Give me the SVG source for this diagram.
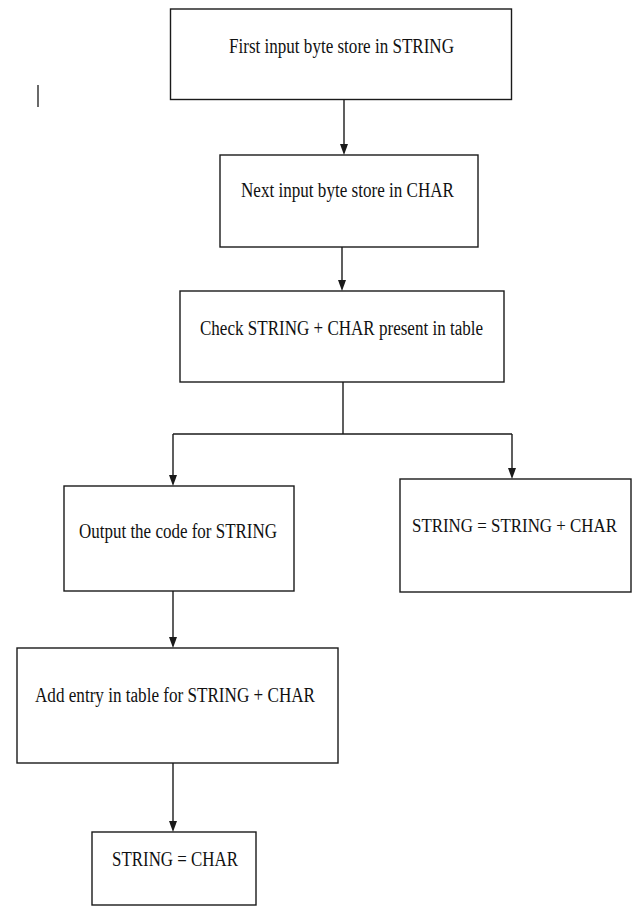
<svg xmlns="http://www.w3.org/2000/svg" width="632" height="906" viewBox="0 0 632 906">
<style>
.box{fill:#fff;stroke:#1a1a1a;stroke-width:1.4}
.lbl{font-family:"Liberation Serif","Times New Roman",serif;font-size:20px;fill:#111}
.con{fill:none;stroke:#1a1a1a;stroke-width:1.4}
.ah{fill:#1a1a1a}
</style>
<rect width="632" height="906" fill="#fff"/>
<line x1="38" y1="85" x2="38" y2="107" stroke="#1a1a1a" stroke-width="1.3"/>
<g id="connectors">
<line class="con" x1="344" y1="99.5" x2="344" y2="144"/>
<path class="ah" d="M340,144 L348,144 L344,155 Z"/>
<line class="con" x1="342" y1="247" x2="342" y2="280"/>
<path class="ah" d="M338,280 L346,280 L342,291 Z"/>
<line class="con" x1="343" y1="382" x2="343" y2="434" stroke-width="2.2"/>
<line class="con" x1="173" y1="434" x2="512" y2="434"/>
<line class="con" x1="173" y1="434" x2="173" y2="475"/>
<path class="ah" d="M169,475 L177,475 L173,486 Z"/>
<line class="con" x1="512" y1="434" x2="512" y2="468"/>
<path class="ah" d="M508,468 L516,468 L512,479 Z"/>
<line class="con" x1="173" y1="591" x2="173" y2="637"/>
<path class="ah" d="M169,637 L177,637 L173,648 Z"/>
<line class="con" x1="173" y1="763" x2="173" y2="821"/>
<path class="ah" d="M169,821 L177,821 L173,832 Z"/>
</g>
<g id="n1">
<rect class="box" x="170.5" y="9" width="341" height="90.5"/>
<text class="lbl" x="229" y="53" textLength="225" lengthAdjust="spacingAndGlyphs">First input byte store in STRING</text>
</g>
<g id="n2">
<rect class="box" x="220" y="155" width="258" height="92"/>
<text class="lbl" x="241" y="197" textLength="213" lengthAdjust="spacingAndGlyphs">Next input byte store in CHAR</text>
</g>
<g id="n3">
<rect class="box" x="180" y="291" width="324" height="91"/>
<text class="lbl" x="200" y="335" textLength="283" lengthAdjust="spacingAndGlyphs">Check STRING + CHAR present in table</text>
</g>
<g id="n4">
<rect class="box" x="64" y="486" width="230" height="105"/>
<text class="lbl" x="79" y="538" textLength="198" lengthAdjust="spacingAndGlyphs">Output the code for STRING</text>
</g>
<g id="n5">
<rect class="box" x="400" y="479" width="231" height="113"/>
<text class="lbl" x="412" y="532" style="font-size:18px" textLength="205" lengthAdjust="spacingAndGlyphs">STRING = STRING + CHAR</text>
</g>
<g id="n6">
<rect class="box" x="17" y="648" width="321" height="115"/>
<text class="lbl" x="35" y="702" textLength="280" lengthAdjust="spacingAndGlyphs">Add entry in table for STRING + CHAR</text>
</g>
<g id="n7">
<rect class="box" x="92" y="832" width="164" height="73"/>
<text class="lbl" x="112" y="866" textLength="126" lengthAdjust="spacingAndGlyphs">STRING = CHAR</text>
</g>
</svg>
